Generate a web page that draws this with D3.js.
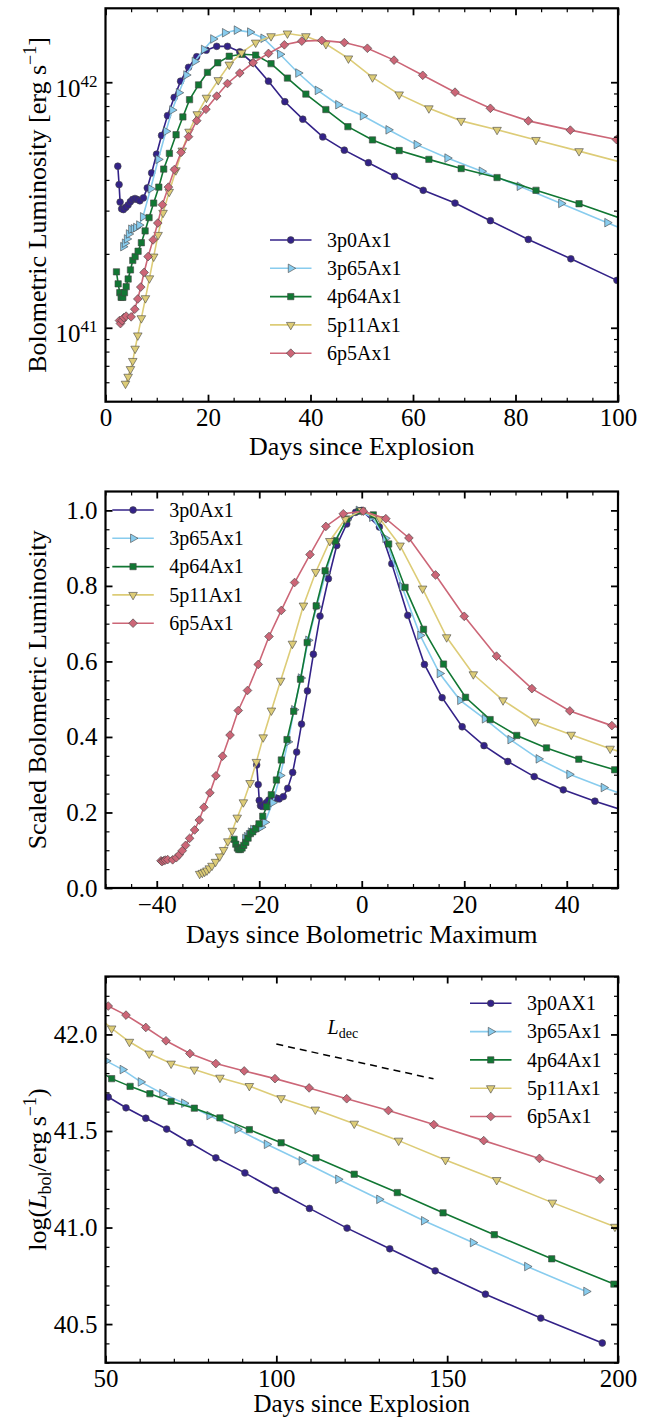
<!DOCTYPE html>
<html><head><meta charset="utf-8">
<script src="https://cdn.jsdelivr.net/npm/d3@7"></script>
<style>
html,body{margin:0;padding:0;background:#fff;}
svg{display:block;}
</style></head><body>
<svg id="chart" width="656" height="1420"></svg>
<script>
// ---------------- DATA ----------------
const seriesNames = ["3p0Ax1","3p65Ax1","4p64Ax1","5p11Ax1","6p5Ax1"];
const seriesNamesP3 = ["3p0AX1","3p65Ax1","4p64Ax1","5p11Ax1","6p5Ax1"];
const seriesColors = ["#332288","#88CCEE","#117733","#DDCC77","#CC6677"];

// Panel 1: days since explosion, bolometric luminosity (units of 1e41 erg/s)
const p1Days3p0 = [2.4,2.65,2.85,3.15,3.5,3.95,4.4,4.85,5.3,5.75,6.2,6.7,7.4,8.15,9.0,9.96,10.94,12.1,13.4,14.65,16.2,17.8,19.66,21.7,23.8,26.2,28.7,31.8,35.0,38.5,42.4,46.6,51.3,56.4,62.0,68.2,75.1,82.5,90.8,99.8,109.7];
const p1Lum3p0  = [4.55,3.83,3.25,3.05,3.03,3.09,3.16,3.26,3.33,3.36,3.33,3.29,3.38,3.71,4.27,5.09,6.07,7.31,8.67,10.1,11.5,12.7,13.5,14.0,14.0,13.3,12.0,10.1,8.33,7.07,5.99,5.29,4.70,4.14,3.63,3.22,2.73,2.29,1.91,1.56,1.26];
const p1Days3p65 = [3.44,3.77,4.16,4.55,5.0,5.5,5.97,6.56,7.3,8.8,10.3,11.8,13.0,14.3,15.75,17.4,19.2,21.0,23.3,25.6,28.2,30.8,34.05,37.6,41.4,45.4,50.2,55.2,60.7,66.7,73.4,80.8,88.9,97.9,107.4];
const p1Lum3p65  = [2.14,2.21,2.30,2.41,2.52,2.53,2.56,2.62,2.83,3.68,4.85,6.31,7.70,9.06,10.7,12.15,13.6,15.0,15.9,16.3,16.0,15.1,13.0,10.9,9.26,8.10,7.30,6.40,5.57,4.91,4.34,3.77,3.21,2.68,2.21];
const p1Days4p64 = [2.14,2.47,2.79,3.05,3.38,3.70,4.03,4.42,4.87,5.32,5.78,6.36,7.0,7.73,8.5,9.4,10.4,11.36,12.47,13.77,15.1,16.4,18.16,19.9,21.9,24.15,26.6,29.3,32.3,35.5,39.1,43.0,47.3,52.1,57.3,63.1,69.4,76.4,84.0,92.4,101.4];
const p1Lum4p64  = [1.69,1.51,1.39,1.33,1.33,1.39,1.47,1.58,1.72,1.88,1.95,2.05,2.22,2.48,2.81,3.22,3.74,4.43,5.13,6.11,7.22,8.49,9.75,10.97,12.0,12.76,13.0,12.9,11.9,10.4,8.95,7.74,6.59,5.82,5.27,4.85,4.45,4.09,3.63,3.20,2.75];
const p1Days5p11 = [3.9,4.42,4.87,5.32,5.78,6.3,7.0,7.8,8.57,9.4,10.26,11.23,12.43,13.74,14.97,16.3,17.9,19.7,22.0,24.15,26.56,29.3,32.3,35.5,39.1,43.0,47.4,52.1,57.3,63.1,69.4,76.4,84.0,92.4,101.4];
const p1Lum5p11  = [0.592,0.632,0.679,0.733,0.822,0.931,1.094,1.32,1.59,1.95,2.39,2.94,3.58,4.38,5.27,6.29,7.41,8.65,10.2,11.8,13.2,14.5,15.4,15.8,15.4,14.3,12.5,10.47,8.92,7.83,6.96,6.40,5.82,5.24,4.68];
const p1Days6p5 = [2.73,2.92,3.25,3.57,4.03,5.0,5.71,6.3,6.88,7.53,8.31,9.29,10.2,11.1,12.27,13.44,14.74,16.2,17.8,19.6,21.7,23.8,26.2,28.8,31.8,34.9,38.3,42.2,46.6,51.1,56.3,61.9,68.2,75.1,82.5,90.7,99.7,109.6];
const p1Lum6p5  = [1.07,1.04,1.07,1.10,1.115,1.108,1.19,1.31,1.465,1.68,1.95,2.28,2.67,3.17,3.74,4.41,5.18,6.0,6.97,7.76,8.78,9.88,10.9,12.0,13.1,14.2,14.7,14.8,14.5,13.75,12.3,10.67,9.11,7.83,6.96,6.38,5.84,5.28];

// Panel 2: days since bolometric maximum, scaled luminosity
const p2Days3p0 = [-20.5,-20.2,-20.0,-19.75,-19.45,-19.05,-18.6,-18.15,-17.65,-17.15,-16.65,-16.1,-15.3,-14.45,-13.48,-12.7,-11.75,-10.6,-9.44,-8.14,-6.51,-4.88,-2.93,-1.2,0.0,3.44,5.86,8.98,12.23,15.68,19.59,23.86,28.5,33.65,39.32,45.5,52.4];
const p2Scaled3p0 = [0.326,0.274,0.232,0.218,0.216,0.221,0.226,0.233,0.238,0.240,0.238,0.236,0.242,0.264,0.306,0.360,0.434,0.522,0.619,0.720,0.819,0.907,0.964,0.995,1.0,0.956,0.859,0.722,0.592,0.504,0.427,0.377,0.335,0.295,0.260,0.230,0.200];
const p2Days3p65 = [-22.76,-22.43,-22.04,-21.65,-21.2,-20.7,-20.23,-19.64,-18.9,-17.4,-15.9,-14.4,-13.2,-11.9,-10.45,-8.8,-7.0,-5.2,-2.9,-0.6,2.0,4.6,7.85,11.4,15.2,19.2,24.0,29.0,34.5,40.5,47.2,54.6];
const p2Scaled3p65 = [0.131,0.136,0.141,0.148,0.155,0.155,0.157,0.161,0.174,0.226,0.298,0.387,0.472,0.556,0.656,0.745,0.834,0.920,0.975,1.0,0.982,0.926,0.798,0.669,0.568,0.497,0.448,0.393,0.342,0.301,0.266,0.231];
const p2Days4p64 = [-24.91,-24.58,-24.26,-24.0,-23.67,-23.35,-23.02,-22.63,-22.18,-21.73,-21.27,-20.69,-20.05,-19.32,-18.55,-17.65,-16.65,-15.69,-14.58,-13.28,-11.95,-10.65,-8.89,-7.15,-5.15,-2.9,-0.45,2.25,5.25,8.45,12.05,15.95,20.25,25.05,30.25,36.05,42.35,49.35,56.95];
const p2Scaled4p64 = [0.129,0.116,0.106,0.102,0.102,0.106,0.113,0.121,0.132,0.144,0.149,0.157,0.170,0.190,0.215,0.247,0.286,0.339,0.393,0.468,0.553,0.650,0.747,0.840,0.919,0.977,0.998,0.988,0.911,0.796,0.685,0.593,0.505,0.446,0.404,0.371,0.341,0.313,0.278];
const p2Days5p11 = [-31.63,-31.11,-30.66,-30.21,-29.75,-29.23,-28.53,-27.73,-26.96,-26.13,-25.27,-24.3,-23.1,-21.79,-20.56,-19.23,-17.63,-15.83,-13.53,-11.38,-8.97,-6.23,-3.23,-0.03,3.57,7.47,11.87,16.57,21.77,27.57,33.87,40.87,48.47,56.87];
const p2Scaled5p11 = [0.0375,0.0401,0.0431,0.0465,0.0521,0.059,0.0694,0.0837,0.1008,0.1237,0.1516,0.1864,0.227,0.278,0.334,0.399,0.470,0.549,0.647,0.748,0.837,0.919,0.977,1.0,0.977,0.907,0.793,0.664,0.566,0.497,0.441,0.406,0.369,0.332];
const p2Days6p5 = [-39.17,-38.98,-38.65,-38.33,-37.87,-36.9,-36.19,-35.6,-35.02,-34.37,-33.59,-32.61,-31.7,-30.8,-29.63,-28.46,-27.16,-25.7,-24.1,-22.3,-20.2,-18.1,-15.7,-13.1,-10.1,-7.0,-3.6,0.3,4.7,9.2,14.4,20.0,26.3,33.2,40.6,48.8,57.8];
const p2Scaled6p5 = [0.0722,0.070,0.0722,0.074,0.0752,0.0747,0.0802,0.0883,0.0988,0.113,0.1315,0.1537,0.180,0.2138,0.252,0.297,0.349,0.405,0.470,0.523,0.592,0.666,0.735,0.809,0.883,0.9575,0.991,0.998,0.978,0.927,0.829,0.7195,0.614,0.528,0.469,0.430,0.394];

// Panel 3: days since explosion, log10(L_bol / erg s^-1)
const p3Days3p0 = [46.6,50.8,56.0,61.8,67.9,74.7,82.3,90.8,99.9,109.7,120.7,133.2,146.5,161.2,177.4,195.4];
const p3Log3p0  = [41.723,41.676,41.620,41.566,41.510,41.439,41.361,41.283,41.193,41.099,40.997,40.890,40.776,40.655,40.531,40.402];
const p3Days3p65 = [45.4,50.2,55.0,60.3,66.6,73.0,80.4,88.6,97.2,107.4,118.1,130.1,143.2,157.5,173.4,190.7];
const p3Log3p65  = [41.908,41.863,41.818,41.754,41.694,41.644,41.580,41.509,41.431,41.345,41.250,41.146,41.035,40.922,40.798,40.669];
const p3Days4p64 = [47.3,51.8,57.2,63.0,69.2,76.0,83.5,92.1,101.4,111.6,122.8,135.4,148.8,163.8,180.6,198.8];
const p3Log4p64  = [41.819,41.771,41.731,41.693,41.653,41.618,41.568,41.507,41.439,41.361,41.276,41.181,41.076,40.963,40.838,40.707];
const p3Days5p11 = [47.4,51.8,57.0,62.8,69.2,76.0,83.5,92.1,101.4,111.4,122.8,135.8,149.5,164.5,180.8,199.1];
const p3Log5p11  = [42.097,42.031,41.962,41.901,41.849,41.818,41.776,41.733,41.670,41.611,41.538,41.450,41.350,41.246,41.129,41.004];
const p3Days6p5 = [46.6,50.8,56.0,61.8,67.7,74.7,82.3,90.6,99.6,109.6,120.6,132.8,146.1,160.7,177.0,194.7];
const p3Log6p5  = [42.161,42.147,42.100,42.036,41.967,41.901,41.849,41.811,41.771,41.723,41.667,41.606,41.533,41.450,41.358,41.250];
const decDays = [100, 146];
const decLog  = [41.95, 41.77];

// Ticks
const p1XTicks = [0,20,40,60,80,100];
const p1YTicks = [1, 10];            // in 1e41 units
const p1YTickExp = ["41","42"];
const p2XTicks = [-40,-20,0,20,40];
const p2YTicks = [0,0.2,0.4,0.6,0.8,1.0];
const p3XTicks = [50,100,150,200];
const p3YTicks = [40.5,41.0,41.5,42.0];

// ---------------- DRAWING ----------------
const FONT = '"Liberation Serif","Times New Roman",Times,serif';
const svg = d3.select("#chart").attr("font-family", FONT);
const PL = 105.5, PR = 618;

const symGens = [
  d3.symbol().type(d3.symbolCircle).size(36),
  d3.symbol().type(d3.symbolTriangle).size(32),
  d3.symbol().type(d3.symbolSquare).size(40),
  d3.symbol().type(d3.symbolTriangle).size(32),
  d3.symbol().type(d3.symbolSquare).size(38)
];
const symRot = [0, 90, 0, 180, 45];

function drawSeries(g, x, y, xs, ys, i) {
  const pts = xs.map((d, k) => [d, ys[k]]);
  g.append("path").datum(pts)
    .attr("fill", "none").attr("stroke", seriesColors[i]).attr("stroke-width", 1.6)
    .attr("d", d3.line().x(d => x(d[0])).y(d => y(d[1])));
  g.append("g").selectAll("path").data(pts).join("path")
    .attr("transform", d => `translate(${x(d[0])},${y(d[1])}) rotate(${symRot[i]})`)
    .attr("d", symGens[i]())
    .attr("fill", seriesColors[i]).attr("stroke", "#444").attr("stroke-width", 0.6);
}

function styleAxis(sel, w) {
  sel.select(".domain").remove();
  sel.selectAll(".tick line").attr("stroke", "#000").attr("stroke-width", w);
  sel.attr("font-family", FONT).attr("font-size", 25);
  sel.selectAll("text").attr("fill", "#000");
}

function drawAxes(g, x, y, top, bottom, cfg) {
  const MJ = 7, MN = 4;
  g.append("g").attr("transform", `translate(0,${bottom})`)
    .call(d3.axisBottom(x).tickValues(cfg.xMajor).tickSize(-MJ).tickPadding(7).tickFormat(cfg.xFmt))
    .call(s => styleAxis(s, 1.8));
  g.append("g").attr("transform", `translate(0,${bottom})`)
    .call(d3.axisBottom(x).tickValues(cfg.xMinor).tickSize(-MN).tickFormat(""))
    .call(s => styleAxis(s, 1.2));
  g.append("g").attr("transform", `translate(0,${top})`)
    .call(d3.axisTop(x).tickValues(cfg.xMajor).tickSize(-MJ).tickFormat(""))
    .call(s => styleAxis(s, 1.8));
  g.append("g").attr("transform", `translate(0,${top})`)
    .call(d3.axisTop(x).tickValues(cfg.xMinor).tickSize(-MN).tickFormat(""))
    .call(s => styleAxis(s, 1.2));
  const gl = g.append("g").attr("transform", `translate(${PL},0)`)
    .call(d3.axisLeft(y).tickValues(cfg.yMajor).tickSize(-MJ).tickPadding(8).tickFormat(cfg.yFmt))
    .call(s => styleAxis(s, 1.8));
  g.append("g").attr("transform", `translate(${PL},0)`)
    .call(d3.axisLeft(y).tickValues(cfg.yMinor).tickSize(-MN).tickFormat(""))
    .call(s => styleAxis(s, 1.2));
  g.append("g").attr("transform", `translate(${PR},0)`)
    .call(d3.axisRight(y).tickValues(cfg.yMajor).tickSize(-MJ).tickFormat(""))
    .call(s => styleAxis(s, 1.8));
  g.append("g").attr("transform", `translate(${PR},0)`)
    .call(d3.axisRight(y).tickValues(cfg.yMinor).tickSize(-MN).tickFormat(""))
    .call(s => styleAxis(s, 1.2));
  g.append("rect").attr("x", PL).attr("y", top).attr("width", PR - PL).attr("height", bottom - top)
    .attr("fill", "none").attr("stroke", "#000").attr("stroke-width", 2.2);
  return gl;
}

function drawLegend(g, x0, y0, names) {
  names.forEach((nm, i) => {
    const yy = y0 + i * 28.3;
    g.append("line").attr("x1", x0).attr("x2", x0 + 41.5).attr("y1", yy).attr("y2", yy)
      .attr("stroke", seriesColors[i]).attr("stroke-width", 1.6);
    g.append("path").attr("transform", `translate(${x0 + 20.75},${yy}) rotate(${symRot[i]})`)
      .attr("d", symGens[i]()).attr("fill", seriesColors[i]).attr("stroke", "#444").attr("stroke-width", 0.6);
    g.append("text").attr("x", x0 + 57).attr("y", yy + 6.8).attr("font-size", 20).attr("fill", "#000").text(nm);
  });
}

function clipFor(id, top, bottom) {
  svg.append("clipPath").attr("id", id).append("rect")
    .attr("x", PL).attr("y", top).attr("width", PR - PL).attr("height", bottom - top);
  return svg.append("g").attr("clip-path", `url(#${id})`);
}

const minus = d => d < 0 ? "\u2212" + Math.abs(d) : String(d);

// ===== Panel 1 =====
{
  const top = 8.3, bottom = 401.7;
  const x = d3.scaleLinear().domain([0, 100]).range([PL, PR]);
  const y = d3.scaleLog().domain([0.5, 20]).range([bottom, top]);
  const g = clipFor("c1", top, bottom);
  const D = [[p1Days3p0,p1Lum3p0],[p1Days3p65,p1Lum3p65],[p1Days4p64,p1Lum4p64],[p1Days5p11,p1Lum5p11],[p1Days6p5,p1Lum6p5]];
  D.forEach((s, i) => drawSeries(g, x, y, s[0], s[1], i));
  const yMinor = [0.6,0.7,0.8,0.9,2,3,4,5,6,7,8,9];
  const ax = svg.append("g");
  const gl = drawAxes(ax, x, y, top, bottom, {
    xMajor: p1XTicks, xMinor: d3.range(0, 101, 5).filter(v => v % 20 !== 0), xFmt: d => String(d),
    yMajor: p1YTicks, yMinor: yMinor, yFmt: () => ""
  });
  gl.selectAll(".tick text").each(function(d, i) {
    const t = d3.select(this).attr("dy", null).attr("y", 14);
    t.text(null);
    t.append("tspan").text("10");
    t.append("tspan").attr("dy", -10).attr("font-size", 17).text(p1YTickExp[i]);
  });
  drawLegend(svg.append("g"), 270, 240, seriesNames);
  svg.append("text").attr("x", (PL + PR) / 2).attr("y", 455).attr("text-anchor", "middle")
    .attr("font-size", 26).text("Days since Explosion");
  const yl = svg.append("text").attr("transform", `translate(46,${(top + bottom) / 2}) rotate(-90)`)
    .attr("text-anchor", "middle").attr("font-size", 26);
  yl.append("tspan").text("Bolometric Luminosity [erg s");
  yl.append("tspan").attr("dy", -10).attr("font-size", 18).text("\u22121");
  yl.append("tspan").attr("dy", 10).text("]");
}

// ===== Panel 2 =====
{
  const top = 491.5, bottom = 888;
  const x = d3.scaleLinear().domain([-50, 50]).range([PL, PR]);
  const y = d3.scaleLinear().domain([0, 1.05]).range([bottom, top]);
  const g = clipFor("c2", top, bottom);
  const D = [[p2Days3p0,p2Scaled3p0],[p2Days3p65,p2Scaled3p65],[p2Days4p64,p2Scaled4p64],[p2Days5p11,p2Scaled5p11],[p2Days6p5,p2Scaled6p5]];
  D.forEach((s, i) => drawSeries(g, x, y, s[0], s[1], i));
  drawAxes(svg.append("g"), x, y, top, bottom, {
    xMajor: p2XTicks, xMinor: d3.range(-50, 51, 5).filter(v => v % 20 !== 0), xFmt: minus,
    yMajor: p2YTicks, yMinor: d3.range(0, 21).map(k => k * 0.05).filter(v => Math.abs(v / 0.2 - Math.round(v / 0.2)) > 1e-6), yFmt: d3.format(".1f")
  });
  drawLegend(svg.append("g"), 112.3, 510, seriesNames);
  svg.append("text").attr("x", (PL + PR) / 2).attr("y", 943).attr("text-anchor", "middle")
    .attr("font-size", 26).text("Days since Bolometric Maximum");
  svg.append("text").attr("transform", `translate(46,${(top + bottom) / 2}) rotate(-90)`)
    .attr("text-anchor", "middle").attr("font-size", 26).text("Scaled Bolometric Luminosity");
}

// ===== Panel 3 =====
{
  const top = 976.5, bottom = 1362.7;
  const x = d3.scaleLinear().domain([50, 200]).range([PL, PR]);
  const y = d3.scaleLinear().domain([40.3, 42.3]).range([bottom, top]);
  const g = clipFor("c3", top, bottom);
  const D = [[p3Days3p0,p3Log3p0],[p3Days3p65,p3Log3p65],[p3Days4p64,p3Log4p64],[p3Days5p11,p3Log5p11],[p3Days6p5,p3Log6p5]];
  D.forEach((s, i) => drawSeries(g, x, y, s[0], s[1], i));
  g.append("path").datum(decDays.map((d, k) => [d, decLog[k]]))
    .attr("fill", "none").attr("stroke", "#000").attr("stroke-width", 1.5).attr("stroke-dasharray", "7,5")
    .attr("d", d3.line().x(d => x(d[0])).y(d => y(d[1])));
  const lt = svg.append("text").attr("x", x(115)).attr("y", y(42.0)).attr("font-size", 20);
  lt.append("tspan").attr("font-style", "italic").text("L");
  lt.append("tspan").attr("dy", 4).attr("font-size", 14).text("dec");
  drawAxes(svg.append("g"), x, y, top, bottom, {
    xMajor: p3XTicks, xMinor: d3.range(50, 201, 10).filter(v => v % 50 !== 0), xFmt: d => String(d),
    yMajor: p3YTicks, yMinor: d3.range(0, 21).map(k => 40.3 + k * 0.1).filter(v => Math.abs(v * 2 - Math.round(v * 2)) > 1e-6), yFmt: d3.format(".1f")
  });
  drawLegend(svg.append("g"), 470, 1003.3, seriesNamesP3);
  svg.append("text").attr("x", (PL + PR) / 2).attr("y", 1412).attr("text-anchor", "middle")
    .attr("font-size", 25).text("Days since Explosion");
  const yl = svg.append("text").attr("transform", `translate(46,${(top + bottom) / 2}) rotate(-90)`)
    .attr("text-anchor", "middle").attr("font-size", 26);
  yl.append("tspan").text("log(");
  yl.append("tspan").attr("font-style", "italic").text("L");
  yl.append("tspan").attr("dy", 5).attr("font-size", 18).text("bol");
  yl.append("tspan").attr("dy", -5).text("/erg\u2009s");
  yl.append("tspan").attr("dy", -10).attr("font-size", 18).text("\u22121");
  yl.append("tspan").attr("dy", 10).text(")");
}
</script>
</body></html>
